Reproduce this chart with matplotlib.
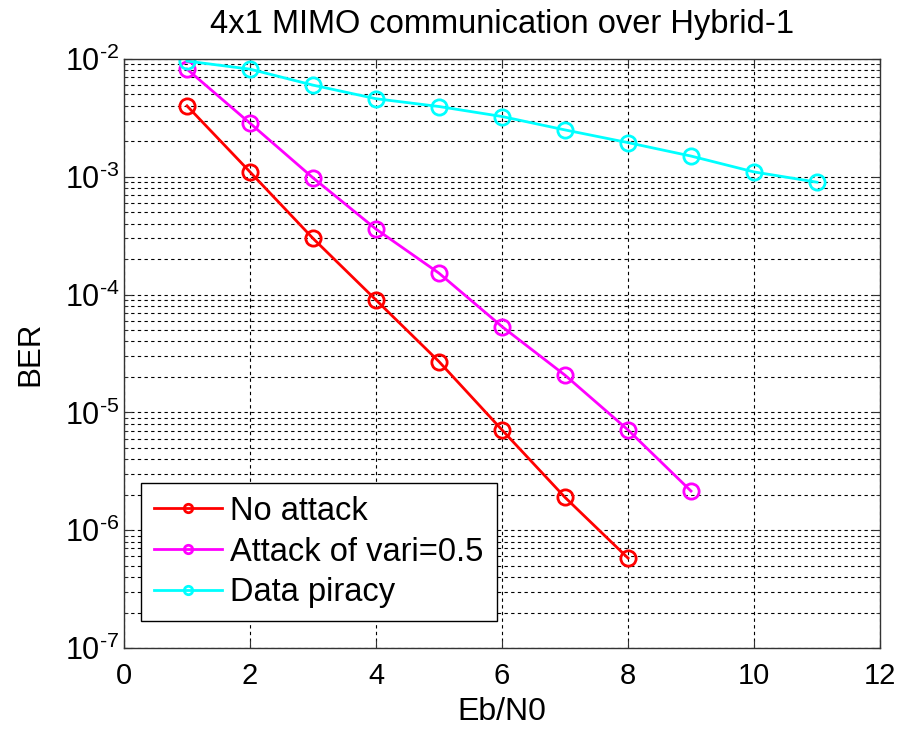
import matplotlib
matplotlib.use("Agg")
import matplotlib.pyplot as plt
from matplotlib.ticker import LogLocator, FuncFormatter, NullFormatter
import numpy as np

plt.rcParams['font.family'] = ['Liberation Sans', 'DejaVu Sans']
plt.rcParams['mathtext.fontset'] = 'custom'
plt.rcParams['mathtext.rm'] = 'Liberation Sans'
plt.rcParams['mathtext.it'] = 'Liberation Sans'
plt.rcParams['mathtext.default'] = 'regular'

# BER vs Eb/N0
ebn0_no_attack = [1, 2, 3, 4, 5, 6, 7, 8]
ber_no_attack = [4.0e-3, 1.1e-3, 3.0e-4, 9.0e-5, 2.7e-5, 7.1e-6, 1.9e-6, 5.8e-7]

ebn0_attack = [1, 2, 3, 4, 5, 6, 7, 8, 9]
ber_attack = [8.2e-3, 2.85e-3, 9.8e-4, 3.6e-4, 1.52e-4, 5.35e-5, 2.07e-5, 7.1e-6, 2.15e-6]

ebn0_piracy = [1, 2, 3, 4, 5, 6, 7, 8, 9, 10, 11]
ber_piracy = [9.6e-3, 8.2e-3, 6.0e-3, 4.6e-3, 3.95e-3, 3.25e-3, 2.5e-3, 1.95e-3, 1.5e-3, 1.1e-3, 9.0e-4]

labels = ['No attack', 'Attack of vari=0.5', 'Data piracy']
colors = ['#ff0000', '#ff00ff', '#00ffff']

fig = plt.figure(figsize=(9.02, 7.30), dpi=100)
ax = fig.add_axes([124 / 902, 1 - 648 / 730, (880 - 124) / 902, (648 - 59) / 730])

series = [(ebn0_no_attack, ber_no_attack), (ebn0_attack, ber_attack), (ebn0_piracy, ber_piracy)]
for (x, y), lab, c in zip(series, labels, colors):
    ax.semilogy(x, y, '-o', color=c, lw=2.0, ms=11, mfc='none', mew=2.0, label=lab)

ax.set_xlim(0, 12)
ax.set_ylim(1e-7, 1e-2)
ax.set_xticks([0, 2, 4, 6, 8, 10, 12])
ax.yaxis.set_major_locator(LogLocator(base=10, numticks=10))
ax.yaxis.set_minor_locator(LogLocator(base=10, subs=range(2, 10), numticks=20))


def decade_label(v, pos):
    e = int(round(np.log10(v)))
    sign = r'\text{-}' if e < 0 else ''
    return r'$10^{%s%d}$' % (sign, abs(e))


ax.yaxis.set_major_formatter(FuncFormatter(decade_label))
ax.yaxis.set_minor_formatter(NullFormatter())

grid_kw = dict(color='black', linestyle=(0, (3, 3)), linewidth=0.8)
ax.grid(True, which='major', axis='both', **grid_kw)
ax.grid(True, which='minor', axis='y', **grid_kw)
ax.set_axisbelow(True)

ax.tick_params(which='both', direction='in', top=True, right=True,
               labelsize=21, color='#333333')
ax.tick_params(axis='y', labelsize=22)
ax.tick_params(which='major', length=6)
ax.tick_params(which='minor', length=3)
ax.tick_params(axis='x', pad=10)
for s in ax.spines.values():
    s.set_color('#333333')
    s.set_linewidth(1.0)

ax.set_title('4x1 MIMO communication over Hybrid-1', fontsize=23.5, pad=19)
ax.set_xlabel('Eb/N0', fontsize=23, labelpad=5)
ax.set_ylabel('BER', fontsize=22.5, labelpad=14)

leg = ax.legend(loc='lower left', bbox_to_anchor=(0.022, 0.045), fontsize=23.5,
                fancybox=False, framealpha=1, edgecolor='black',
                handlelength=2.1, markerscale=0.55, borderpad=0.4,
                labelspacing=0.3, handletextpad=0.25, borderaxespad=0)
leg.get_frame().set_linewidth(1.0)

fig.savefig('out.png', dpi=100)
